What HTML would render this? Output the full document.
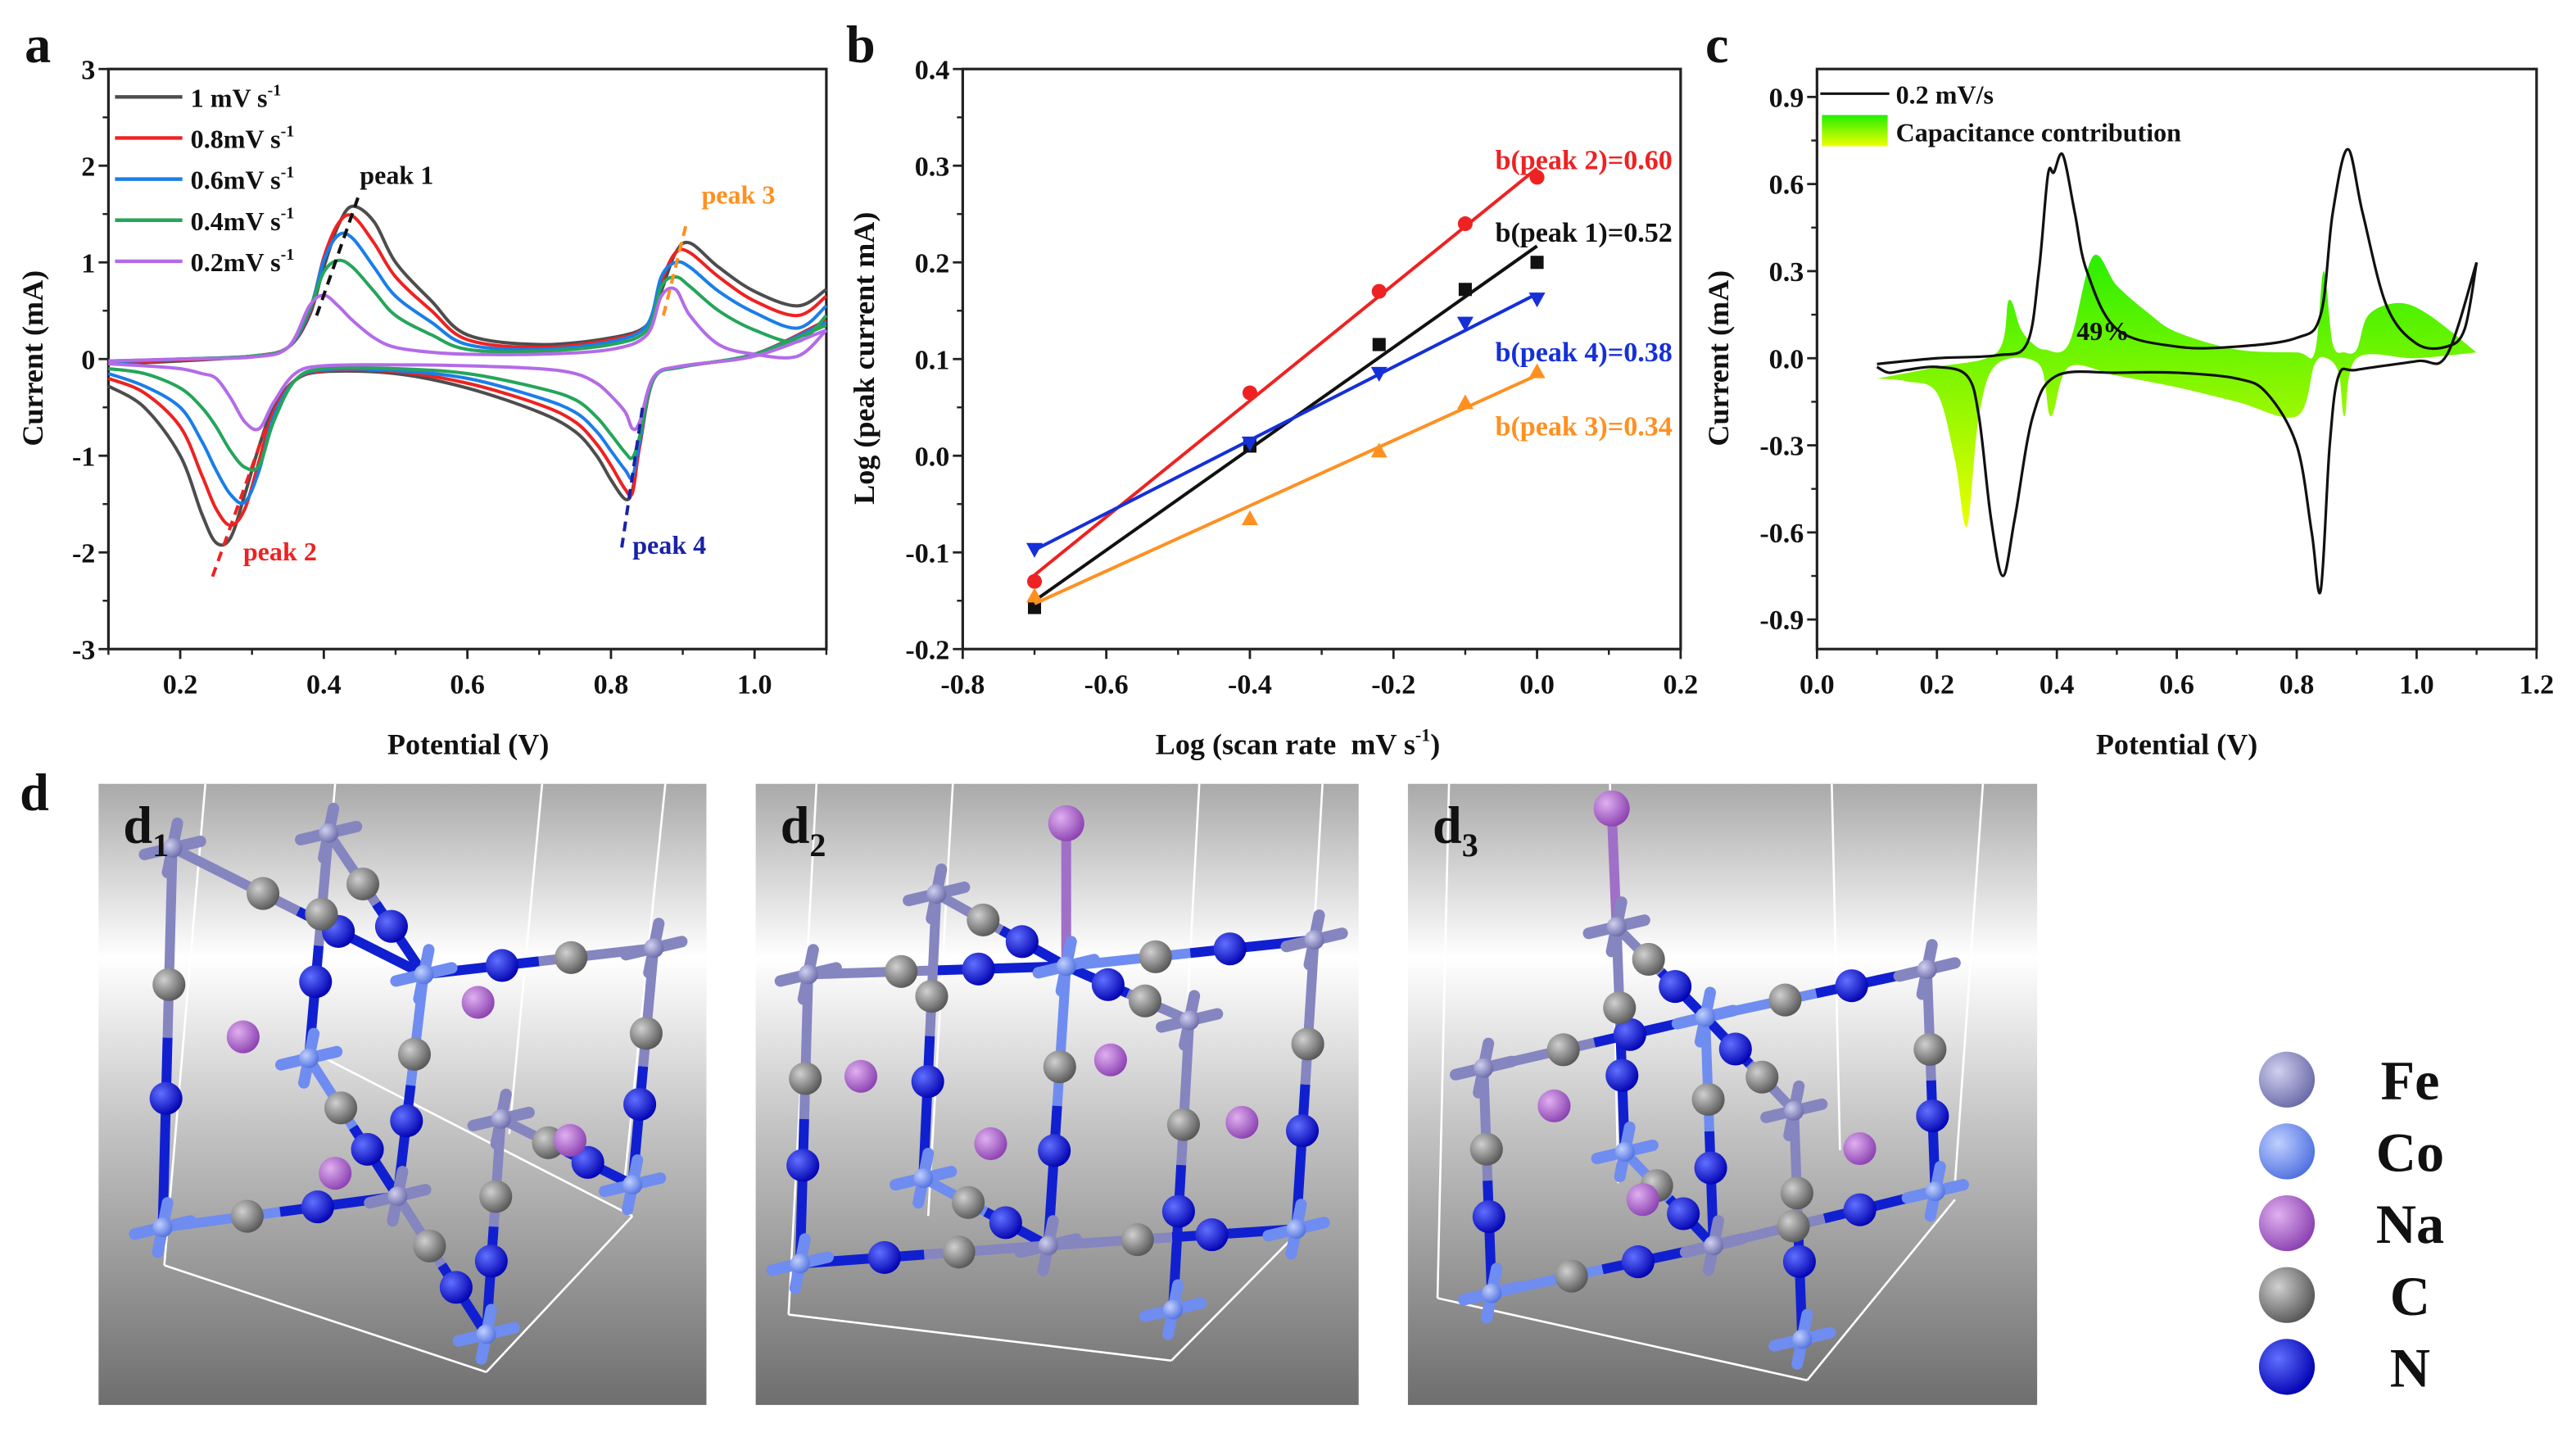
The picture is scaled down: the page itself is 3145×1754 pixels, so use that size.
<!DOCTYPE html>
<html><head><meta charset="utf-8"><style>
html,body{margin:0;padding:0;background:#fff;}
svg{display:block;}
text{font-family:"Liberation Serif",serif;font-weight:bold;}
</style></head><body>
<svg id="fig" xmlns="http://www.w3.org/2000/svg" width="3145" height="1754" viewBox="0 0 1568 874.5" preserveAspectRatio="none">
<defs>
<linearGradient id="capGrad" gradientUnits="userSpaceOnUse" x1="0" y1="150" x2="0" y2="325"><stop offset="0" stop-color="#22ee00"/><stop offset="1" stop-color="#f0ff00"/></linearGradient>
<linearGradient id="swGrad" x1="0" y1="0" x2="0" y2="1"><stop offset="0" stop-color="#22ee00"/><stop offset="1" stop-color="#f0ff00"/></linearGradient>
<linearGradient id="bgGrad" x1="0" y1="0" x2="0" y2="1"><stop offset="0" stop-color="#a9a9a9"/><stop offset="0.28" stop-color="#ffffff"/><stop offset="0.55" stop-color="#c4c4c4"/><stop offset="1" stop-color="#6e6e6e"/></linearGradient>
<radialGradient id="gFe" cx="0.35" cy="0.35" r="0.7"><stop offset="0" stop-color="#d0d0f0"/><stop offset="1" stop-color="#6a6aa8"/></radialGradient>
<radialGradient id="gCo" cx="0.35" cy="0.35" r="0.7"><stop offset="0" stop-color="#c0d0ff"/><stop offset="1" stop-color="#4f70e0"/></radialGradient>
<radialGradient id="gNa" cx="0.35" cy="0.35" r="0.7"><stop offset="0" stop-color="#e0b0f0"/><stop offset="1" stop-color="#8a40b0"/></radialGradient>
<radialGradient id="gC" cx="0.35" cy="0.35" r="0.7"><stop offset="0" stop-color="#d0d0d0"/><stop offset="1" stop-color="#555"/></radialGradient>
<radialGradient id="gN" cx="0.35" cy="0.35" r="0.7"><stop offset="0" stop-color="#6070ff"/><stop offset="1" stop-color="#0000b0"/></radialGradient>
</defs>
<g id="root"></g>
</svg>
<script>
// ===== Panel a data =====
const aUpX = [0.10,0.20,0.30,0.35,0.38,0.40,0.42,0.44,0.47,0.50,0.55,0.60,0.70,0.80,0.85,0.87,0.89,0.91,0.95,1.00,1.06,1.10];
const aUp1 = [-0.05,-0.02,0.03,0.12,0.45,0.95,1.38,1.58,1.42,1.0,0.6,0.25,0.15,0.22,0.35,0.7,1.1,1.2,0.95,0.7,0.55,0.72];
const aUp08 = [-0.04,-0.01,0.03,0.12,0.48,1.05,1.4,1.48,1.2,0.85,0.5,0.2,0.12,0.2,0.35,0.8,1.1,1.1,0.85,0.6,0.45,0.65];
const aUp06 = [-0.03,0,0.03,0.12,0.5,1.02,1.28,1.25,0.95,0.65,0.38,0.15,0.1,0.18,0.35,0.85,1.0,0.95,0.7,0.48,0.32,0.55];
const aUp04 = [-0.02,0,0.03,0.12,0.52,0.9,1.02,0.95,0.7,0.45,0.25,0.1,0.08,0.15,0.3,0.75,0.85,0.75,0.5,0.3,0.18,0.45];
const aUp02 = [-0.02,0,0.02,0.12,0.55,0.66,0.55,0.4,0.22,0.12,0.07,0.05,0.05,0.1,0.25,0.65,0.72,0.45,0.15,0.05,0.03,0.3];
const aLoX = [0.10,0.15,0.20,0.23,0.25,0.27,0.29,0.31,0.33,0.36,0.40,0.50,0.60,0.70,0.75,0.78,0.80,0.82,0.83,0.84,0.86,0.90,1.00,1.10];
const aLo1 = [-0.28,-0.5,-1.0,-1.6,-1.9,-1.85,-1.4,-0.9,-0.5,-0.22,-0.13,-0.15,-0.3,-0.55,-0.75,-1.0,-1.25,-1.45,-1.35,-0.9,-0.2,-0.08,0.05,0.4];
const aLo08 = [-0.2,-0.35,-0.7,-1.2,-1.55,-1.72,-1.55,-1.05,-0.55,-0.22,-0.12,-0.13,-0.25,-0.47,-0.65,-0.88,-1.1,-1.35,-1.38,-0.9,-0.2,-0.08,0.05,0.4];
const aLo06 = [-0.15,-0.28,-0.5,-0.85,-1.15,-1.4,-1.48,-1.15,-0.6,-0.22,-0.11,-0.12,-0.2,-0.4,-0.55,-0.75,-0.95,-1.15,-1.22,-0.85,-0.2,-0.08,0.05,0.38];
const aLo04 = [-0.1,-0.15,-0.3,-0.5,-0.7,-0.95,-1.12,-1.1,-0.65,-0.22,-0.1,-0.1,-0.15,-0.3,-0.42,-0.6,-0.78,-0.97,-1.02,-0.8,-0.2,-0.08,0.05,0.35];
const aLo02 = [-0.05,-0.07,-0.1,-0.15,-0.2,-0.4,-0.65,-0.72,-0.45,-0.15,-0.07,-0.06,-0.07,-0.1,-0.15,-0.25,-0.38,-0.55,-0.72,-0.65,-0.18,-0.07,0.03,0.3];
const aLabels = ["1 mV s","0.8mV s","0.6mV s","0.4mV s","0.2mV s"];
const aColors = ["#4d4d4d","#ee2222","#1a7ee8","#25a55a","#b36be8"];
const aXTicks = [0.2,0.4,0.6,0.8,1.0];
const aYTicks = [-3,-2,-1,0,1,2,3];
// ===== Panel b data =====
const bX = [-0.7,-0.4,-0.22,-0.1,0];
const bPeak2 = [-0.13,0.065,0.17,0.24,0.288];
const bPeak1 = [-0.157,0.01,0.115,0.172,0.2];
const bPeak4 = [-0.097,0.013,0.085,0.137,0.162];
const bPeak3 = [-0.145,-0.065,0.005,0.055,0.087];
const bLabels = ["b(peak 2)=0.60","b(peak 1)=0.52","b(peak 4)=0.38","b(peak 3)=0.34"];
const bXTicks = [-0.8,-0.6,-0.4,-0.2,0.0,0.2];
const bYTicks = [-0.2,-0.1,0.0,0.1,0.2,0.3,0.4];
// ===== Panel c data =====
const cUpX = [0.1,0.2,0.3,0.35,0.37,0.385,0.395,0.41,0.43,0.45,0.5,0.6,0.7,0.8,0.84,0.86,0.885,0.91,0.95,1.0,1.05,1.08,1.1];
const cUpY = [-0.02,0,0.01,0.05,0.3,0.63,0.64,0.7,0.5,0.3,0.1,0.04,0.04,0.07,0.15,0.5,0.72,0.5,0.18,0.05,0.04,0.1,0.33];
const cLoX = [1.1,1.05,1.0,0.9,0.87,0.855,0.84,0.825,0.8,0.75,0.7,0.6,0.5,0.4,0.36,0.33,0.31,0.29,0.27,0.25,0.2,0.15,0.12,0.1];
const cLoY = [0.33,0.01,-0.01,-0.04,-0.06,-0.3,-0.8,-0.6,-0.3,-0.12,-0.07,-0.05,-0.05,-0.06,-0.2,-0.55,-0.75,-0.55,-0.2,-0.06,-0.03,-0.04,-0.05,-0.03];
const capUpX = [0.1,0.2,0.3,0.32,0.34,0.36,0.38,0.42,0.46,0.5,0.55,0.6,0.7,0.8,0.83,0.845,0.86,0.88,0.9,0.92,0.97,1.02,1.1];
const capUpY = [-0.07,-0.03,0.02,0.2,0.1,0.05,0.03,0.05,0.35,0.25,0.16,0.09,0.03,0.02,0.02,0.3,0.05,0.02,0.03,0.15,0.19,0.15,0.02];
const capLoX = [1.1,1.0,0.9,0.88,0.87,0.85,0.83,0.8,0.7,0.6,0.5,0.42,0.39,0.37,0.3,0.27,0.25,0.23,0.2,0.15,0.1];
const capLoY = [0.02,0.0,0.0,-0.2,-0.05,0,-0.02,-0.2,-0.15,-0.1,-0.06,-0.03,-0.2,-0.02,-0.02,-0.2,-0.58,-0.35,-0.12,-0.08,-0.07];
const cXTicks = [0.0,0.2,0.4,0.6,0.8,1.0,1.2];
const cYTicks = [-0.9,-0.6,-0.3,0.0,0.3,0.6,0.9];
// ===== Legend of atoms =====
const atomNames = ["Fe","Co","Na","C","N"];

const NS="http://www.w3.org/2000/svg";
const root=document.getElementById('root');
function mk(tag,attrs,parent){const e=document.createElementNS(NS,tag);for(const k in attrs)e.setAttribute(k,attrs[k]);(parent||root).appendChild(e);return e;}
function txt(s,x,y,size,anchor,fill,parent){const t=mk('text',{x:x,y:y,'font-size':size,'text-anchor':anchor||'start',fill:fill||'#111'},parent);t.textContent=s;return t;}
function smooth(pts){let d='M'+pts[0][0].toFixed(2)+','+pts[0][1].toFixed(2);for(let i=0;i<pts.length-1;i++){const p0=pts[i-1]||pts[i],p1=pts[i],p2=pts[i+1],p3=pts[i+2]||p2;const c1=[p1[0]+(p2[0]-p0[0])/6,p1[1]+(p2[1]-p0[1])/6],c2=[p2[0]-(p3[0]-p1[0])/6,p2[1]-(p3[1]-p1[1])/6];d+='C'+c1[0].toFixed(2)+','+c1[1].toFixed(2)+' '+c2[0].toFixed(2)+','+c2[1].toFixed(2)+' '+p2[0].toFixed(2)+','+p2[1].toFixed(2);}return d;}
function lin(d0,d1,r0,r1){return v=>r0+(v-d0)*(r1-r0)/(d1-d0);}
function fmt(v,dec){let s=v.toFixed(dec);if(s.startsWith('-')&&parseFloat(s)===0)s=s.slice(1);return s;}

function axes(g,L,R,T,B,sx,sy,xt,yt,xdec,ydec,xminor,yminor){
  mk('rect',{x:L,y:T,width:R-L,height:B-T,fill:'none',stroke:'#222','stroke-width':1.6},g);
  xt.forEach(v=>{const x=sx(v);mk('line',{x1:x,y1:B,x2:x,y2:B+6,stroke:'#222','stroke-width':1.4},g);txt(fmt(v,xdec),x,B+27,17,'middle','#111',g);});
  xminor.forEach(v=>{const x=sx(v);mk('line',{x1:x,y1:B,x2:x,y2:B+3.5,stroke:'#222','stroke-width':1.2},g);});
  yt.forEach(v=>{const y=sy(v);mk('line',{x1:L,y1:y,x2:L-6,y2:y,stroke:'#222','stroke-width':1.4},g);txt(fmt(v,ydec),L-8,y+6,17,'end','#111',g);});
  yminor.forEach(v=>{const y=sy(v);mk('line',{x1:L,y1:y,x2:L-3.5,y2:y,stroke:'#222','stroke-width':1.2},g);});
}
function ytitle(g,s,x,y){const t=txt(s,x,y,18,'middle','#111',g);t.setAttribute('transform','rotate(-90 '+x+' '+y+')');return t;}

// ---------- Panel a ----------
const ga=mk('g',{});


txt('a',15,38,32,'start','#111',ga);
const axL=66,axR=503,axT=42,axB=395;
const asx=lin(0.1,1.1,axL,axR), asy=lin(3,-3,axT,axB);
axes(ga,axL,axR,axT,axB,asx,asy,aXTicks,aYTicks,1,0,[0.1,0.3,0.5,0.7,0.9,1.1],[-2.5,-1.5,-0.5,0.5,1.5,2.5]);
ytitle(ga,'Current (mA)',26,218);
txt('Potential (V)',285,459,18,'middle','#111',ga);
const ups=[aUp1,aUp08,aUp06,aUp04,aUp02], los=[aLo1,aLo08,aLo06,aLo04,aLo02];
for(let k=0;k<5;k++){
  const p=mk('path',{d:smooth(aUpX.map((x,i)=>[asx(x),asy(ups[k][i])])),fill:'none',stroke:aColors[k],'stroke-width':2},ga);
  
  
  const q=mk('path',{d:smooth(aLoX.map((x,i)=>[asx(x),asy(los[k][i])])),fill:'none',stroke:aColors[k],'stroke-width':2},ga);
  
  
}
// legend a
for(let k=0;k<5;k++){
  const y=59+25*k;
  const l=mk('line',{x1:70,y1:y,x2:111,y2:y,stroke:aColors[k],'stroke-width':2.2},ga);
  
  const t=txt(aLabels[k],116,y+6,16,'start','#111',ga);
  
  
  const sup=mk('tspan',{dy:-7,'font-size':10},t);sup.textContent='-1';
}
// dashed peak guides
const dashes=[[0.39,0.45,0.45,1.72,'#111'],[0.245,-2.25,0.32,-0.7,'#ee2222'],[0.873,0.45,0.905,1.4,'#ff9020'],[0.815,-1.95,0.845,-0.45,'#1a22a8']];
dashes.forEach(d=>{const l=mk('line',{x1:asx(d[0]),y1:asy(d[1]),x2:asx(d[2]),y2:asy(d[3]),stroke:d[4],'stroke-width':2,'stroke-dasharray':'6,4'},ga);});
txt('peak 1',219,112,16,'start','#111',ga);
txt('peak 3',427,124,16,'start','#ff9020',ga);
txt('peak 2',148,341,16,'start','#ee2222',ga);
txt('peak 4',385,337,16,'start','#1a22a8',ga);

// ---------- Panel b ----------
const gb=mk('g',{});


txt('b',515,38,32,'start','#111',gb);
const bL=586,bR=1023;
const bsx=lin(-0.8,0.2,bL,bR), bsy=lin(0.4,-0.2,axT,axB);
axes(gb,bL,bR,axT,axB,bsx,bsy,bXTicks,bYTicks,1,1,[-0.7,-0.5,-0.3,-0.1,0.1],[-0.15,-0.05,0.05,0.15,0.25,0.35]);
ytitle(gb,'Log (peak current mA)',532,218);
const bxt=txt('Log (scan rate\u00a0\u00a0mV s',790,459,18,'middle','#111',gb);

{const s=mk('tspan',{dy:-8,'font-size':11},bxt);s.textContent='-1';const s2=mk('tspan',{dy:8},bxt);s2.textContent=')';}
const bSeries=[[bPeak2,'#ee2222','circle',97],[bPeak1,'#111','square',141],[bPeak4,'#1530d8','tridown',214],[bPeak3,'#ff9020','triup',259]];
bSeries.forEach((s,k)=>{
  const ys=s[0];const n=bX.length;const mx=bX.reduce((a,b)=>a+b)/n,my=ys.reduce((a,b)=>a+b)/n;
  let sxy=0,sxx=0;for(let i=0;i<n;i++){sxy+=(bX[i]-mx)*(ys[i]-my);sxx+=(bX[i]-mx)**2;}
  const m=sxy/sxx,c=my-m*mx;
  const fl=mk('line',{x1:bsx(-0.7),y1:bsy(m*-0.7+c),x2:bsx(0),y2:bsy(c),stroke:s[1],'stroke-width':2},gb);
  
  
  bX.forEach((x,i)=>{
    const px=bsx(x),py=bsy(ys[i]);let e;
    if(s[2]==='circle')e=mk('circle',{cx:px,cy:py,r:4.5,fill:s[1]},gb);
    else if(s[2]==='square')e=mk('rect',{x:px-4,y:py-4,width:8,height:8,fill:s[1]},gb);
    else if(s[2]==='tridown')e=mk('polygon',{points:(px-5)+','+(py-4)+' '+(px+5)+','+(py-4)+' '+px+','+(py+5),fill:s[1]},gb);
    else e=mk('polygon',{points:(px-5)+','+(py+4)+' '+(px+5)+','+(py+4)+' '+px+','+(py-5),fill:s[1]},gb);
    
    
  });
  const t=txt(bLabels[k],1018,s[3]+6,17,'end',s[1],gb);
  
});

// ---------- Panel c ----------
const gc=mk('g',{});


txt('c',1038,38,32,'start','#111',gc);
const cL=1106,cR=1544;
const csx=lin(0,1.2,cL,cR), csy=lin(0.9,-0.9,59,377);
axes(gc,cL,cR,axT,axB,csx,csy,cXTicks,cYTicks,1,1,[0.1,0.3,0.5,0.7,0.9,1.1],[-0.75,-0.45,-0.15,0.15,0.45,0.75]);
ytitle(gc,'Current (mA)',1052,218);
txt('Potential (V)',1325,459,18,'middle','#111',gc);
const capPts=capUpX.map((x,i)=>[csx(x),csy(capUpY[i])]);
const capLo=capLoX.map((x,i)=>[csx(x),csy(capLoY[i])]);
const fillD=smooth(capPts)+' L'+smooth(capLo).slice(1)+'Z';
const cf=mk('path',{d:fillD,fill:'url(#capGrad)',stroke:'none'},gc);


const cv=mk('path',{d:smooth(cUpX.map((x,i)=>[csx(x),csy(cUpY[i])]))+' '+smooth(cLoX.map((x,i)=>[csx(x),csy(cLoY[i])])).replace('M','L'),fill:'none',stroke:'#111','stroke-width':1.6},gc);


mk('line',{x1:1108,y1:57,x2:1150,y2:57,stroke:'#111','stroke-width':1.6},gc);
txt('0.2 mV/s',1154,63,16,'start','#111',gc);
mk('rect',{x:1109,y:70,width:40,height:19,fill:'url(#swGrad)'},gc);
txt('Capacitance contribution',1154,86,16,'start','#111',gc);
txt('49%',1280,207,16,'middle','#111',gc);

// ---------- Panel d ----------
const gd=mk('g',{});


txt('d',12,493,32,'start','#111',gd);
const fills={Fe:'url(#gFe)',Co:'url(#gCo)',Na:'url(#gNa)',K:'url(#gNa)',C:'url(#gC)',N:'url(#gN)'};
const bondCol={Fe:'#8585c0',Co:'#6f8cf0'};
function scene(x0,y0,w,h,sub,nodes,bonds,ions,na,frame){
  const g=mk('g',{},gd);
  
  
  mk('rect',{x:x0,y:y0,width:w,height:h,fill:'url(#bgGrad)'},g);
  frame.forEach(f=>mk('line',{x1:f[0],y1:f[1],x2:f[2],y2:f[3],stroke:'#fff','stroke-width':1.3},g));
  if(na){mk('line',{x1:na[0],y1:na[1],x2:nodes[na[2]][1],y2:nodes[na[2]][2],stroke:'#a070c8','stroke-width':6},g);}
  bonds.forEach(b=>{const a=nodes[b[0]],c=nodes[b[1]];
    mk('line',{x1:a[1],y1:a[2],x2:(a[1]+c[1])/2,y2:(a[2]+c[2])/2,stroke:bondCol[a[0]],'stroke-width':6},g);
    mk('line',{x1:(a[1]+c[1])/2,y1:(a[2]+c[2])/2,x2:c[1],y2:c[2],stroke:'#1020d0','stroke-width':6},g);
  });
  bonds.forEach(b=>{const a=nodes[b[0]],c=nodes[b[1]];
    const cx=a[1]+(c[1]-a[1])*0.36,cy=a[2]+(c[2]-a[2])*0.36,nx=a[1]+(c[1]-a[1])*0.66,ny=a[2]+(c[2]-a[2])*0.66;
    mk('circle',{cx:cx,cy:cy,r:10,fill:fills.C},g);mk('circle',{cx:nx,cy:ny,r:10,fill:fills.N},g);
  });
  nodes.forEach(n=>{const col=bondCol[n[0]];
    mk('line',{x1:n[1]-17,y1:n[2]+4,x2:n[1]+17,y2:n[2]-4,stroke:col,'stroke-width':7,'stroke-linecap':'round'},g);
    mk('line',{x1:n[1]+3,y1:n[2]-15,x2:n[1]-3,y2:n[2]+15,stroke:col,'stroke-width':7,'stroke-linecap':'round'},g);
    mk('circle',{cx:n[1],cy:n[2],r:6,fill:fills[n[0]]},g);
  });
  ions.forEach(p=>mk('circle',{cx:p[0],cy:p[1],r:10,fill:fills.K},g));
  if(na)mk('circle',{cx:na[0],cy:na[1],r:11,fill:fills.Na},g);
  const t=txt('d',x0+15,y0+36,32,'start','#111',g);
  const s=mk('tspan',{dy:8,'font-size':20},t);s.textContent=sub;
}
scene(60,477,370,378,'1',
 [['Fe',200,507],['Fe',105,516],['Co',258,593],['Co',188,644],['Fe',398,577],['Fe',305,681],['Fe',242,728],['Co',99,747],['Co',385,721],['Co',296,812]],
 [[0,2],[1,2],[4,2],[2,6],[3,6],[7,6],[1,7],[6,9],[5,8],[4,8],[5,9],[0,3]],
 [[148,631],[291,610],[204,714],[347,694]],null,
 [[125,477,100,770],[204,477,190,640],[330,477,310,690],[405,477,380,720],[100,770,296,835],[296,835,385,740],[190,640,385,740]]);
scene(460,477,367,378,'2',
 [['Fe',570,544],['Fe',492,593],['Co',649,588],['Fe',800,572],['Fe',724,621],['Co',562,717],['Fe',638,758],['Co',487,769],['Co',789,748],['Co',714,797]],
 [[1,2],[2,3],[0,2],[2,6],[4,9],[1,7],[5,6],[6,7],[6,8],[3,8],[0,5],[4,2]],
 [[524,655],[676,645],[603,696],[756,683]],[649,501,2],
 [[497,477,480,800],[580,477,565,740],[730,477,715,760],[805,477,790,740],[480,800,713,828],[713,828,790,750]]);
scene(857,477,383,378,'3',
 [['Fe',984,564],['Co',1038,619],['Fe',1173,590],['Fe',903,650],['Fe',1092,676],['Co',989,701],['Co',1178,725],['Fe',1043,758],['Co',908,787],['Co',1097,815]],
 [[0,1],[1,2],[3,1],[1,7],[0,5],[3,8],[8,7],[7,6],[2,6],[4,9],[5,7],[4,1]],
 [[946,673],[1132,699],[1000,730]],[981,492,0],
 [[882,477,875,790],[980,477,985,720],[1115,477,1120,700],[1207,477,1190,720],[875,790,1100,840],[1100,840,1190,730]]);
// atom legend
atomNames.forEach((n,i)=>{const y=657+43.7*i;
  const c=mk('circle',{cx:1392,cy:y,r:17,fill:fills[n]},gd);
  
  
  const t=txt(n,1467,y+12,34,'middle','#111',gd);
  
  
});
</script>
</body></html>
